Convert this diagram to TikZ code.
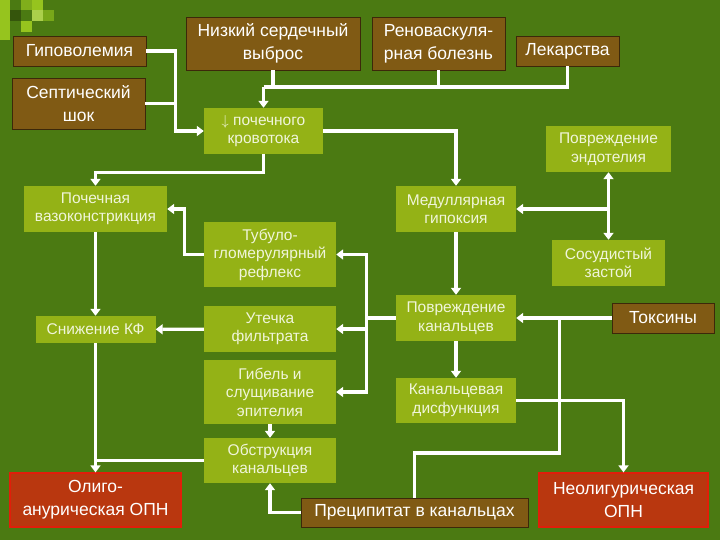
\documentclass[tikz,border=0pt]{standalone}
\usepackage{fontspec}
\setmainfont{Liberation Sans}
\usetikzlibrary{arrows.meta}

\definecolor{slidegreen}{RGB}{75,122,18}
\definecolor{cornerlime}{RGB}{150,196,30}
\definecolor{causebrown}{RGB}{128,90,20}
\definecolor{causeedge}{RGB}{60,40,10}
\definecolor{stagelime}{RGB}{148,178,22}
\definecolor{stagetext}{RGB}{240,245,218}
\definecolor{endred}{RGB}{185,55,15}
\definecolor{endedge}{RGB}{225,30,10}

\tikzset{
  wire/.style={draw=white,line width=3.2pt},
  arr/.style={wire,-{Triangle[width=10pt,length=7pt]}},
  twoarr/.style={wire,{Triangle[width=10pt,length=7pt]}-{Triangle[width=10pt,length=7pt]}},
}

\begin{document}
\begin{tikzpicture}[x=1pt,y=-1pt]

        % background and corner squares
        \fill[slidegreen] (0,0) rectangle (720,540);
        \useasboundingbox (0,0) rectangle (720,540);
        \fill[cornerlime] (0,0) rectangle (10,40);
        \fill[cornerlime!70!slidegreen] (21,0) rectangle (32,10);
        \fill[cornerlime] (32,0) rectangle (43,10);
        \fill[cornerlime!80!white] (32,10) rectangle (43,21);
        \fill[cornerlime] (21,21) rectangle (32,32);
        \fill[cornerlime!60!slidegreen] (43,10) rectangle (54,21);
        \fill[slidegreen!70!black] (10,10) rectangle (21,21);

        \begin{scope}[every node/.style={draw=causeedge,line width=0.8pt,fill=causebrown,
            text=white,align=center,inner sep=2pt,font=\fontsize{17.5}{23}\selectfont}]
          \node[minimum width=133pt,minimum height=30pt] (1) at (79.5,51)   {Гиповолемия};
          \node[minimum width=133pt,minimum height=51pt] (2) at (78.5,103.5) {Септический\\шок};
          \node[minimum width=174pt,minimum height=53pt] (3) at (273,43.5)  {Низкий сердечный\\выброс};
          \node[minimum width=133pt,minimum height=53pt] (4) at (438.5,43.5) {Реноваскуля-\\рная болезнь};
          \node[minimum width=103pt,minimum height=30pt] (5) at (567.5,51)  {Лекарства};
          \node[minimum width=102pt,minimum height=30pt] (15) at (663,318)  {Токсины};
          \node[minimum width=227pt,minimum height=29pt] (20) at (414.5,512.5) {Преципитат в канальцах};
        \end{scope}

        \begin{scope}[every node/.style={fill=stagelime,text=stagetext,align=center,
            inner sep=2pt,font=\fontsize{15.5}{18.5}\selectfont}]
          \node[minimum width=119pt,minimum height=46pt] (6)  at (263.5,131) {$\downarrow$ почечного\\кровотока};
          \node[minimum width=125pt,minimum height=46pt] (7)  at (608.5,149) {Повреждение\\эндотелия};
          \node[minimum width=143pt,minimum height=46pt] (8)  at (95.5,209)  {Почечная\\вазоконстрикция};
          \node[minimum width=120pt,minimum height=46pt] (9)  at (456,209)   {Медуллярная\\гипоксия};
          \node[minimum width=132pt,minimum height=65pt] (10) at (270,254.5) {Тубуло-\\гломерулярный\\рефлекс};
          \node[minimum width=113pt,minimum height=46pt] (11) at (608.5,263) {Сосудистый\\застой};
          \node[minimum width=120pt,minimum height=27pt] (12) at (95.5,329.5) {Снижение КФ};
          \node[minimum width=132pt,minimum height=46pt] (13) at (270,329)   {Утечка\\фильтрата};
          \node[minimum width=120pt,minimum height=46pt] (14) at (456,318)   {Повреждение\\канальцев};
          \node[minimum width=132pt,minimum height=64pt] (16) at (270,392)   {Гибель и\\слущивание\\эпителия};
          \node[minimum width=120pt,minimum height=45pt] (17) at (456,400.5) {Канальцевая\\дисфункция};
          \node[minimum width=132pt,minimum height=45pt] (18) at (270,460.5) {Обструкция\\канальцев};
        \end{scope}

        \begin{scope}[every node/.style={draw=endedge,line width=1.2pt,fill=endred,
            text=white,align=center,inner sep=2pt,font=\fontsize{17.5}{23}\selectfont}]
          \node[minimum width=171pt,minimum height=54pt] (19) at (95.5,500)  {Олиго-\\анурическая ОПН};
          \node[minimum width=169pt,minimum height=54pt] (21) at (623.5,500) {Неолигурическая\\ОПН};
        \end{scope}

        % causes into renal blood flow
        \draw[arr]  (1.east) -- ++(29,0) |- (6.west);
        \draw[wire] (2.east) -- ++(30,0);
        \coordinate (bus) at (263.5,87);
        \draw[wire] (bus) -| (5.south);
        \draw[wire] (3.south) -- (3.south |- bus);
        \draw[wire] (4.south) -- (4.south |- bus);
        \draw[arr]  (bus) -- (6.north);

        % blood flow, hypoxia, endothelium
        \draw[arr] (6.south) -- ++(0,18) -| (8.north);
        \draw[arr] (6.east) -| (9.north);
        \draw[arr] (9) -- (14);
        \draw[twoarr] (7) -- (11);
        \draw[arr] (7.south |- 9.east) -- (9.east);

        % tubular damage
        \draw[arr] (14.west) -- ++(-29,0) coordinate (k) |- (10.east);
        \draw[arr] (k) |- (13.east);
        \draw[arr] (k) |- (16.east);
        \draw[arr] (15.west) -- (14.east);
        \draw[wire] (15.west) ++(-52,0) -- ++(0,135) -| (20.north);
        \draw[arr] (14) -- (17);
        \draw[arr] (17.east) -| (21.north);

        % filtration side
        \draw[arr]  (10.west) -- ++(-19,0) |- (8.east);
        \draw[arr]  (8) -- (12);
        \draw[arr]  (13) -- (12);
        \draw[arr]  (12.south) -- (19.north);
        \draw[wire] (18.west) -- (18.west -| 12.south);
        \draw[arr]  (16) -- (18);
        \draw[arr]  (20.west) -| (18.south);

      \end{tikzpicture}
\end{document}
